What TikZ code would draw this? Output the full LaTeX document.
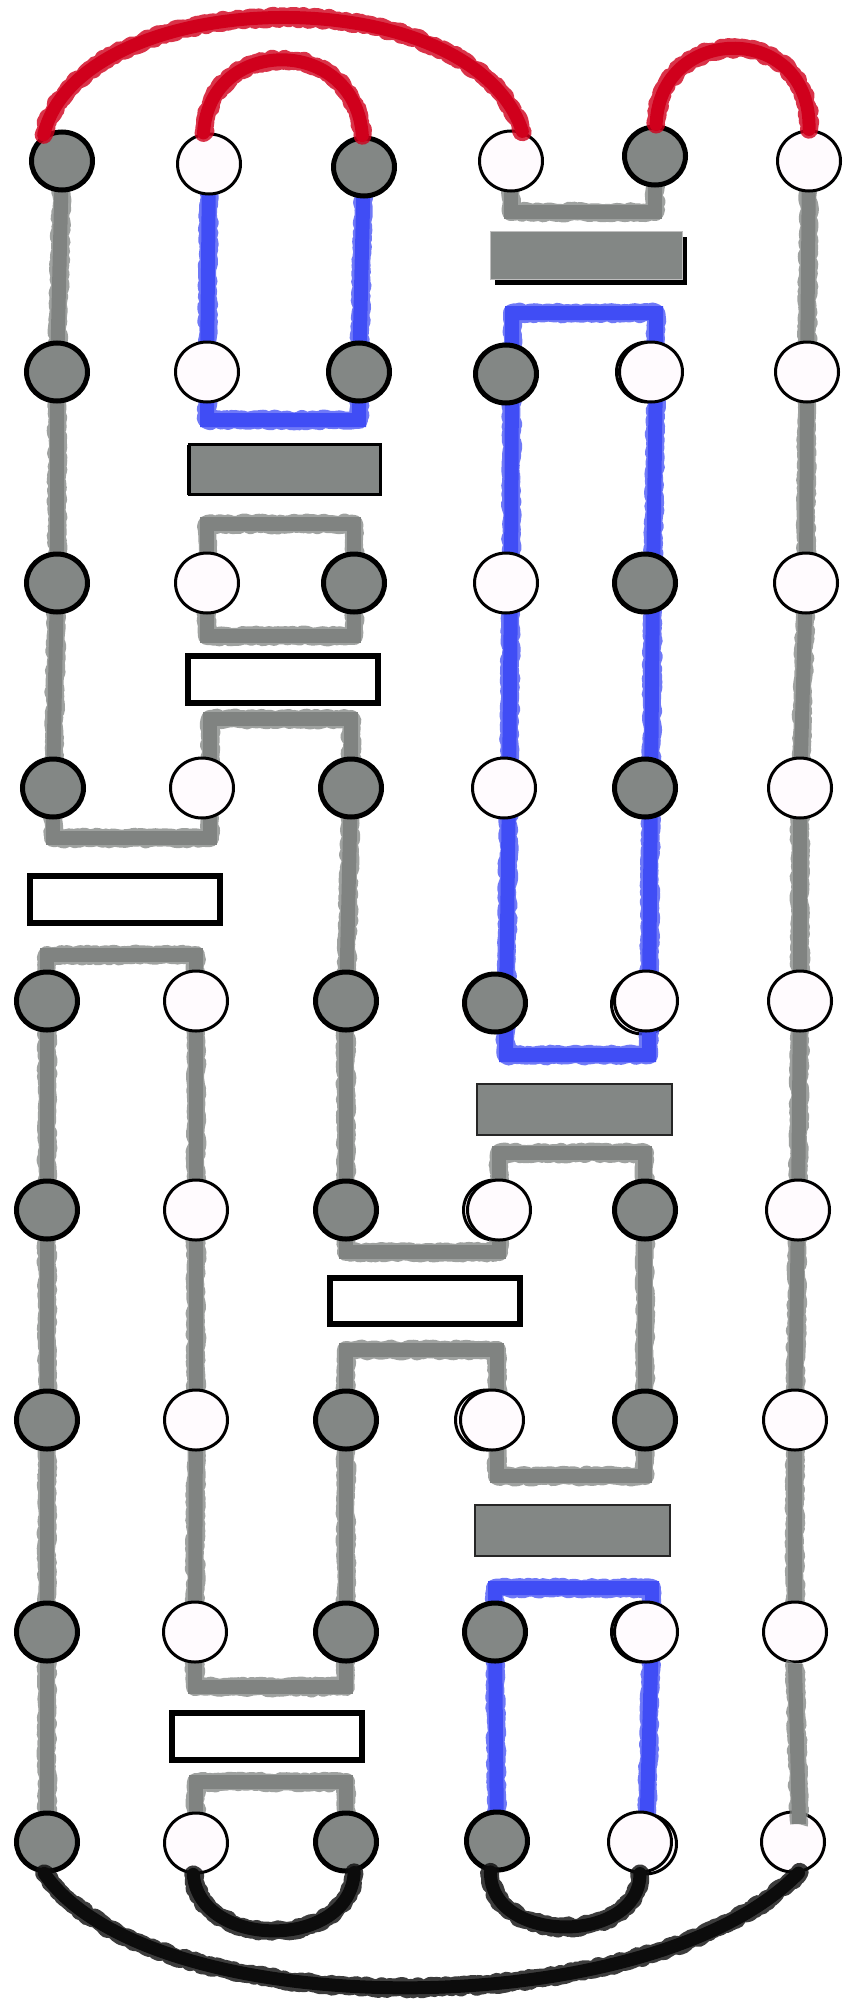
\documentclass[tikz,border=0pt]{standalone}
\usetikzlibrary{shapes.geometric,decorations.pathmorphing,shadows,calc}
\definecolor{nodegray}{RGB}{131,135,133}
\definecolor{nodewhite}{RGB}{255,251,254}
\definecolor{gcol}{RGB}{128,131,129}
\definecolor{bcol}{RGB}{64,77,245}
\definecolor{rcol}{RGB}{208,0,28}
\definecolor{kcol}{RGB}{12,12,12}
\pgfdeclarelayer{bg}
\pgfsetlayers{bg,main}
\newcommand\sketchline[2]{\draw[#1,pen] #2; \draw[#1,rough] #2;}
\newcommand\sketcharc[2]{\draw[#1,arcpen] #2; \draw[#1,arcrough] #2;}
\begin{document}
\begin{tikzpicture}[x=1pt,y=-1pt,
  gnode/.style={ellipse, draw=black, line width=5pt, fill=nodegray, minimum width=61pt, minimum height=58pt, inner sep=0pt},
  wnode/.style={ellipse, draw=black, line width=3pt, fill=nodewhite, minimum width=63pt, minimum height=60pt, inner sep=0pt},
  grect/.style={rectangle, fill=nodegray, inner sep=0pt},
  wrect/.style={rectangle, fill=white, draw=black, line width=6pt, inner sep=0pt, minimum width=190pt, minimum height=47pt},
  pen/.style={line width=14pt},
  rough/.style={line width=18pt, line join=round, opacity=0.75, decorate, decoration={random steps, segment length=3pt, amplitude=1.5pt}},
  arcpen/.style={line width=13pt, line cap=round},
  arcrough/.style={line width=18pt, line cap=round, line join=round, opacity=0.8, decorate, decoration={random steps, segment length=3pt, amplitude=1.8pt}},
  dshadow/.style={draw=black, line width=3pt, fill=nodewhite}
]
\pgfmathsetseed{7}
\useasboundingbox (0,0) rectangle (845,2004);
\begin{pgfonlayer}{bg}
\fill[white] (0,0) rectangle (845,2004);
\end{pgfonlayer}

% rectangles
\node[grect, draw=gray!50, line width=0.8pt, minimum width=192pt, minimum height=48pt,
  drop shadow={opacity=1, fill=black, shadow xshift=4pt, shadow yshift=-5pt}] (R1) at (586.5,255.5) {};
\node[grect, draw=black, line width=2.5pt, minimum width=191pt, minimum height=50pt,
  drop shadow={opacity=1, fill=black, shadow xshift=-3pt, shadow yshift=0pt}] (R2) at (285,469.5) {};
\node[wrect] (R3) at (283,679.5) {};
\node[wrect] (R4) at (125,899.5) {};
\node[grect, draw=black!85, line width=2pt, minimum width=195pt, minimum height=51pt] (R5) at (574.5,1109.5) {};
\node[wrect, minimum height=46pt] (R6) at (425,1301) {};
\node[grect, draw=black!85, line width=2pt, minimum width=195pt, minimum height=51pt] (R7) at (572.5,1530.5) {};
\node[wrect] (R8) at (267,1736.5) {};

% row 1
\node[gnode] (r1c1) at (62,161) {};
\node[wnode] (r1c2) at (209,164) {};
\node[gnode] (r1c3) at (364,167) {};
\node[wnode] (r1c4) at (511,161) {};
\node[gnode] (r1c5) at (655,156) {};
\node[wnode] (r1c6) at (809,161) {};
% row 2
\node[gnode] (r2c1) at (57,372) {};
\node[wnode] (r2c2) at (207,372) {};
\node[gnode] (r2c3) at (359,372) {};
\node[gnode] (r2c4) at (506,374) {};
\node[wnode] (r2c5) at (651,372) {};
\node[wnode] (r2c6) at (807,372) {};
% row 3
\node[gnode] (r3c1) at (57,583) {};
\node[wnode] (r3c2) at (207,583) {};
\node[gnode] (r3c3) at (354,583) {};
\node[wnode] (r3c4) at (506,583) {};
\node[gnode] (r3c5) at (645,583) {};
\node[wnode] (r3c6) at (806,583) {};
% row 4
\node[gnode] (r4c1) at (53,788) {};
\node[wnode] (r4c2) at (202,788) {};
\node[gnode] (r4c3) at (351,788) {};
\node[wnode] (r4c4) at (504,788) {};
\node[gnode] (r4c5) at (645,788) {};
\node[wnode] (r4c6) at (800,788) {};
% row 5
\node[gnode] (r5c1) at (47,1001) {};
\node[wnode] (r5c2) at (196,1001) {};
\node[gnode] (r5c3) at (346,1001) {};
\node[gnode] (r5c4) at (495,1003) {};
\node[wnode] (r5c5) at (646,1001) {};
\node[wnode] (r5c6) at (800,1001) {};
% row 6
\node[gnode] (r6c1) at (47,1210) {};
\node[wnode] (r6c2) at (196,1210) {};
\node[gnode] (r6c3) at (346,1210) {};
\node[wnode] (r6c4) at (499,1210) {};
\node[gnode] (r6c5) at (645,1210) {};
\node[wnode] (r6c6) at (798,1210) {};
% row 7
\node[gnode] (r7c1) at (47,1420) {};
\node[wnode] (r7c2) at (196,1420) {};
\node[gnode] (r7c3) at (346,1420) {};
\node[wnode] (r7c4) at (492,1420) {};
\node[gnode] (r7c5) at (645,1420) {};
\node[wnode] (r7c6) at (795,1420) {};
% row 8
\node[gnode] (r8c1) at (47,1632) {};
\node[wnode] (r8c2) at (195,1632) {};
\node[gnode] (r8c3) at (346,1632) {};
\node[gnode] (r8c4) at (495,1632) {};
\node[wnode] (r8c5) at (646,1632) {};
\node[wnode] (r8c6) at (795,1632) {};
% row 9
\node[gnode] (r9c1) at (47,1842) {};
\node[wnode] (r9c2) at (196,1843) {};
\node[gnode] (r9c3) at (346,1842) {};
\node[gnode] (r9c4) at (497,1841) {};
\node[wnode] (r9c5) at (640,1842) {};
\node[wnode] (r9c6) at (793,1842) {};

\coordinate (g6end) at ($(r9c6.center)+(6,-18)$);

\begin{pgfonlayer}{bg}
% doubled outlines
\draw[dshadow] ([xshift=-3pt]r2c5.center) ellipse [x radius=31.5pt, y radius=30pt];
\draw[dshadow] ([xshift=-3pt,yshift=-3pt]r5c5.center) ellipse [x radius=31.5pt, y radius=30pt];
\draw[dshadow] ([xshift=-4pt]r6c4.center) ellipse [x radius=31.5pt, y radius=30pt];
\draw[dshadow] ([xshift=-5pt]r7c4.center) ellipse [x radius=31.5pt, y radius=30pt];
\draw[dshadow] ([xshift=-3pt]r8c5.center) ellipse [x radius=31.5pt, y radius=30pt];
\draw[dshadow] ([xshift=5pt,yshift=-2pt]r9c5.center) ellipse [x radius=31.5pt, y radius=30pt];

% gray connectors
\sketchline{gcol}{(r1c1.center) -- (r2c1.center) -- (r3c1.center) -- (r4c1.center)}
\sketchline{gcol}{(r4c1.center) -- ++(0,50) -| ([xshift=8pt]r4c2.center)}
\sketchline{gcol}{([xshift=8pt]r4c2.center) -- ++(0,-69) -| (r4c3.center)}
\sketchline{gcol}{(r5c1.center) -- ++(0,-46) -| (r5c2.center)}
\sketchline{gcol}{(r5c1.center) -- (r6c1.center) -- (r7c1.center) -- (r8c1.center) -- (r9c1.center)}
\sketchline{gcol}{(r5c2.center) -- (r6c2.center) -- (r7c2.center) -- (r8c2.center)}
\sketchline{gcol}{(r8c2.center) -- ++(0,55) -| (r8c3.center)}
\sketchline{gcol}{(r7c3.center) -- (r8c3.center)}
\sketchline{gcol}{(r7c3.center) -- ++(0,-70) -| ([xshift=5pt]r7c4.center)}
\sketchline{gcol}{([xshift=5pt]r7c4.center) -- ++(0,56) -| (r7c5.center)}
\sketchline{gcol}{(r6c5.center) -- (r7c5.center)}
\sketchline{gcol}{(r6c4.center) -- ++(0,-57) -| (r6c5.center)}
\sketchline{gcol}{(r6c3.center) -- ++(0,42) -| (r6c4.center)}
\sketchline{gcol}{(r4c3.center) -- (r5c3.center) -- (r6c3.center)}
\sketchline{gcol}{(r3c2.center) -- ++(0,-59) -| (r3c3.center)}
\sketchline{gcol}{(r3c2.center) -- ++(0,53) -| (r3c3.center)}
\sketchline{gcol}{(r1c4.center) -- ++(0,51) -| (r1c5.center)}
\sketchline{gcol}{(r9c2.center) -- ++(0,-61) -| (r9c3.center)}
\sketchline{gcol}{(r1c6.center) -- (r2c6.center) -- (r3c6.center) -- (r4c6.center) -- (r5c6.center) -- (r6c6.center) -- (r7c6.center) -- (r8c6.center)}

% blue connectors
\sketchline{bcol}{(r1c2.center) -- (r2c2.center) -- ++(0,48) -| (r2c3.center) -- (r1c3.center)}
\sketchline{bcol}{([xshift=11pt]r5c4.center) -- ([xshift=5pt]r4c4.center) -- ([xshift=5pt]r3c4.center) -- ([xshift=6pt]r2c4.center) -- ++(0,-61) -| ([xshift=5pt]r2c5.center) -- ([xshift=8pt]r3c5.center) -- ([xshift=6pt]r4c5.center) -- ([xshift=3pt]r5c5.center) -- ++(0,54) -| ([xshift=11pt]r5c4.center)}
\sketchline{bcol}{(r9c4.center) -- (r8c4.center) -- ++(0,-44) -| ([xshift=6pt]r8c5.center) -- ([xshift=6pt]r9c5.center)}
\end{pgfonlayer}

% column 6 end over the last node
\sketchline{gcol}{(r8c6.south) -- (g6end)}

% red arcs
\sketcharc{rcol}{(r1c1.125) .. controls (80,-16) and (470,-26) .. (r1c4.69)}
\sketcharc{rcol}{(r1c2.100) .. controls (210,35) and (355,35) .. (r1c3.93)}
\sketcharc{rcol}{(r1c5.88) .. controls (660,22) and (812,22) .. (r1c6.90)}

% black arcs
\sketcharc{kcol}{(r9c1.265) .. controls (150,2026) and (650,2026) .. (r9c6.280)}
\sketcharc{kcol}{(r9c2.265) .. controls (200,1950) and (350,1950) .. (r9c3.285)}
\sketcharc{kcol}{(r9c4.258) .. controls (490,1945) and (640,1945) .. (r9c5.270)}
\end{tikzpicture}
\end{document}
